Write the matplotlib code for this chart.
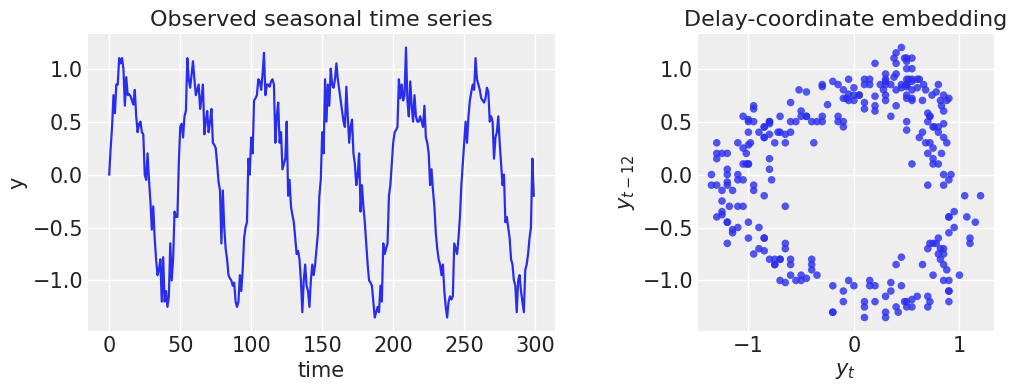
import matplotlib
matplotlib.use("Agg")
import matplotlib.pyplot as plt
import numpy as np

# observed series (t = 0..299)
y = [
    0.00, 0.25, 0.45, 0.75, 0.58, 0.85, 0.85, 1.10, 1.05, 1.10,
    1.00, 0.65, 0.92, 0.75, 0.76, 0.74, 0.70, 0.66, 0.80, 0.55,
    0.40, 0.48, 0.50, 0.40, 0.38, 0.00, -0.05, 0.20, -0.05, -0.25,
    -0.52, -0.30, -0.60, -0.80, -0.95, -0.90, -0.80, -1.20, -0.78, -1.20,
    -1.10, -1.25, -1.15, -0.65, -1.00, -0.80, -0.35, -0.40, -0.40, 0.10,
    0.45, 0.48, 0.35, 0.55, 0.60, 1.10, 0.90, 0.82, 0.95, 1.07,
    0.90, 0.75, 0.80, 0.85, 0.62, 0.72, 0.85, 0.38, 0.50, 0.60,
    0.40, 0.50, 0.62, 0.30, 0.28, 0.25, 0.10, -0.07, -0.15, -0.65,
    -0.15, -0.50, -0.70, -0.80, -0.95, -0.98, -1.00, -1.05, -1.02, -1.20,
    -1.25, -1.20, -0.95, -1.10, -0.90, -0.60, -0.50, -0.45, 0.15, 0.00,
    0.35, 0.20, 0.70, 0.72, 0.75, 0.90, 0.88, 0.80, 0.95, 1.15,
    0.75, 0.85, 0.85, 0.83, 0.88, 0.90, 0.85, 0.30, 0.55, 0.68,
    0.30, 0.40, 0.05, 0.10, 0.15, 0.50, -0.20, -0.05, -0.30, -0.38,
    -0.45, -0.60, -0.75, -0.72, -0.80, -1.00, -1.30, -1.00, -0.85, -1.05,
    -1.10, -1.25, -1.00, -0.85, -0.95, -0.85, -0.70, -0.55, -0.20, -0.05,
    0.40, 0.20, 0.90, 0.50, 0.85, 0.65, 1.00, 0.85, 0.82, 0.90,
    1.05, 0.90, 0.80, 0.70, 0.60, 0.50, 0.45, 0.83, 0.55, 0.30,
    0.45, 0.52, 0.20, 0.10, -0.10, 0.00, 0.20, -0.35, -0.10, -0.30,
    -0.45, -0.65, -0.85, -1.00, -1.02, -1.05, -1.20, -1.35, -1.30, -1.25,
    -1.30, -1.05, -1.20, -0.65, -0.75, -0.70, -0.65, -0.20, -0.10, 0.10,
    0.30, 0.40, 0.42, 0.45, 0.90, 0.72, 0.85, 0.70, 0.75, 1.20,
    0.70, 0.55, 0.88, 0.65, 0.50, 0.75, 0.55, 0.50, 0.50, 0.55,
    0.50, 0.45, 0.65, 0.35, 0.30, 0.20, -0.10, 0.05, -0.15, -0.30,
    -0.55, -0.70, -0.80, -0.85, -0.95, -0.85, -1.10, -1.25, -1.35, -1.20,
    -1.15, -1.18, -1.15, -0.65, -0.70, -0.75, -0.60, -0.40, -0.10, 0.10,
    0.30, 0.50, 0.30, 0.55, 0.70, 0.78, 0.85, 0.80, 1.10, 0.90,
    0.85, 0.80, 0.72, 0.70, 0.68, 0.72, 0.82, 0.78, 0.50, 0.55,
    0.50, 0.15, 0.35, 0.40, 0.55, 0.30, 0.10, -0.10, 0.00, -0.45,
    -0.40, -0.50, -0.60, -0.80, -0.85, -1.00, -1.05, -1.30, -1.00, -0.95,
    -1.10, -1.20, -1.30, -0.90, -0.85, -0.75, -0.60, -0.50, 0.15, -0.20,
]
lag = 12

y = np.array(y)
t = np.arange(len(y))
blue = "#2a2eec"

plt.rcParams.update({
    "axes.facecolor": "#eeeeee",
    "axes.edgecolor": "#eeeeee",
    "axes.grid": True,
    "grid.color": "white",
    "grid.linewidth": 1.0,
    "axes.axisbelow": True,
    "xtick.major.size": 0,
    "ytick.major.size": 0,
    "xtick.color": "#222222",
    "ytick.color": "#222222",
    "text.color": "#222222",
    "axes.labelcolor": "#222222",
    "font.size": 15,
    "axes.titlesize": 16,
})

fig = plt.figure(figsize=(10.17, 3.9), dpi=100)
W, H = 1017, 390
ax1 = fig.add_axes([88 / W, 1 - 331 / H, (555 - 88) / W, (331 - 34) / H])
ax2 = fig.add_axes([698 / W, 1 - 331 / H, (994 - 698) / W, (331 - 34) / H])

ax1.plot(t, y, color=blue, lw=1.6)
ax1.set_title("Observed seasonal time series")
ax1.set_xlabel("time")
ax1.set_ylabel("y")
ax1.set_yticks([-1.0, -0.5, 0.0, 0.5, 1.0])

ax2.scatter(y[lag:], y[:-lag], s=30, color=blue, alpha=0.8, edgecolors="none")
ax2.set_title("Delay-coordinate embedding")
ax2.set_xlabel(r"$y_t$")
ax2.set_ylabel(r"$y_{t-12}$")
ax2.set_yticks([-1.0, -0.5, 0.0, 0.5, 1.0])

for ax in (ax1, ax2):
    for s in ax.spines.values():
        s.set_visible(False)

fig.savefig("out.png", dpi=100)
